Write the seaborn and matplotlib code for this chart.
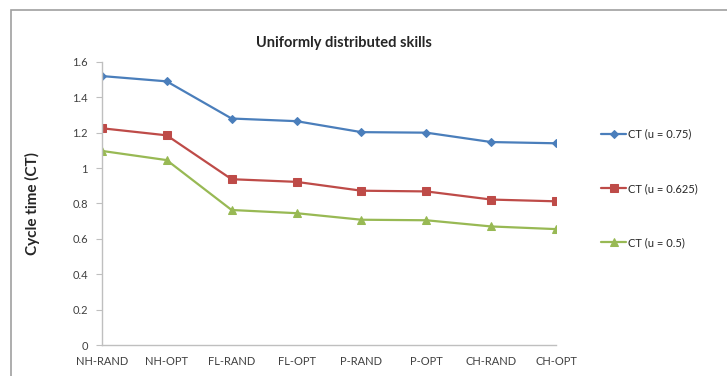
import matplotlib
matplotlib.use("Agg")
import matplotlib.pyplot as plt
import seaborn as sns
import pandas as pd
from matplotlib.patches import Rectangle

categories = ["NH-RAND", "NH-OPT", "FL-RAND", "FL-OPT", "P-RAND", "P-OPT", "CH-RAND", "CH-OPT"]
ct_075 = [1.52, 1.49, 1.28, 1.265, 1.203, 1.20, 1.147, 1.14]
ct_0625 = [1.225, 1.185, 0.937, 0.922, 0.872, 0.868, 0.822, 0.812]
ct_05 = [1.097, 1.045, 0.763, 0.745, 0.708, 0.705, 0.67, 0.655]
series_names = ["CT (u = 0.75)", "CT (u = 0.625)", "CT (u = 0.5)"]
yticks = [0, 0.2, 0.4, 0.6, 0.8, 1.0, 1.2, 1.4, 1.6]
yticklabels = ["0", "0.2", "0.4", "0.6", "0.8", "1", "1.2", "1.4", "1.6"]

colors = ["#4A7EBB", "#BE4B48", "#98B954"]
markers = ["D", "s", "^"]
msizes = [4.5, 6, 6]

sns.set_style("white")
plt.rcParams["font.family"] = ["Lato", "DejaVu Sans"]

df = pd.concat([
    pd.DataFrame({"cat": categories, "ct": vals, "series": name})
    for name, vals in zip(series_names, [ct_075, ct_0625, ct_05])
])

fig = plt.figure(figsize=(7.27, 3.76), dpi=100)
ax = fig.add_axes([0.140, 0.0824, 0.625, 0.753])

for name, c, m, ms in zip(series_names, colors, markers, msizes):
    sub = df[df["series"] == name]
    sns.lineplot(data=sub, x="cat", y="ct", ax=ax, color=c, marker=m,
                 markersize=ms, markeredgecolor=c, linewidth=1.6, label=name)

ax.set_xlim(0, len(categories) - 1)
ax.set_ylim(0, 1.6)
ax.set_yticks(yticks)
ax.set_yticklabels(yticklabels, fontsize=8, color="#404040")
ax.set_xticks(range(len(categories)))
ax.set_xticklabels(categories, fontsize=8, color="#404040")
ax.set_xlabel("")
ax.set_ylabel("Cycle time (CT)", fontsize=11, fontweight="bold")
ax.yaxis.set_label_coords(-0.135, 0.5)

for s in ["top", "right"]:
    ax.spines[s].set_visible(False)
for s in ["left", "bottom"]:
    ax.spines[s].set_color("#BFBFBF")
    ax.spines[s].set_linewidth(1)
ax.tick_params(axis="y", length=4, color="#BFBFBF", direction="out", left=True, pad=6)
ax.tick_params(axis="x", length=0, pad=8)
ax.grid(False)

fig.suptitle("Uniformly distributed skills", x=0.473, y=0.905, fontsize=10.5, fontweight="bold")

leg = ax.legend(loc="upper left", bbox_to_anchor=(1.09, 0.78), frameon=False,
                fontsize=8, labelspacing=3.9, handlelength=2.2, handletextpad=0.2,
                borderaxespad=0)

fig.patches.append(Rectangle((11 / 727, -0.05), 1.1, 0.973 + 0.05, transform=fig.transFigure,
                             fill=False, edgecolor="#A0A0A0", linewidth=1.2))

fig.savefig("out.png", dpi=100)
